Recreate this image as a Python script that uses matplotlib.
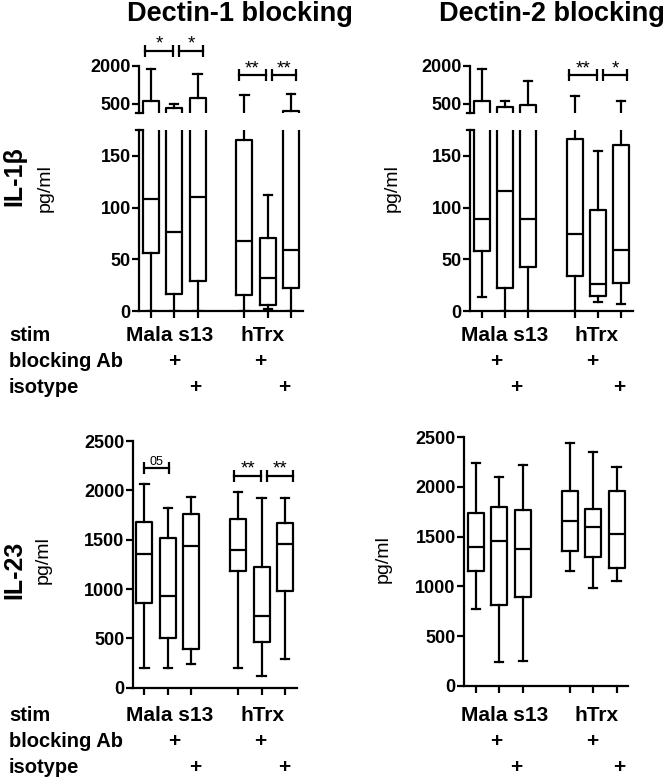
import matplotlib
matplotlib.use("Agg")
import matplotlib.pyplot as plt

plt.rcParams['font.family'] = ['Liberation Sans', 'DejaVu Sans']
plt.rcParams['font.weight'] = 'bold'

W, H = 669, 779

positions = [1, 2, 3, 5, 6, 7]

# IL-1b, Dectin-1 blocking
il1_d1_lo = [0, 0, 0, 0, 2, 0]
il1_d1_q1 = [56, 16, 29, 15.5, 6, 22]
il1_d1_med = [108, 76, 110, 68, 32, 59]
il1_d1_q3 = [610, 330, 730, 165, 71, 220]
il1_d1_hi = [1870, 490, 1670, 830, 112, 890]

# IL-1b, Dectin-2 blocking
il1_d2_lo = [14, 0, 0, 0, 9, 7]
il1_d2_q1 = [58, 22, 43, 34, 14.5, 27]
il1_d2_med = [89, 116, 89, 74, 26, 59]
il1_d2_q3 = [620, 350, 450, 166, 97.7, 160.7]
il1_d2_hi = [1895, 620, 1385, 823, 155, 620]

# IL-23, Dectin-1 blocking
il23_d1_lo = [203, 203, 240, 197, 122, 288]
il23_d1_q1 = [861, 507, 389, 1182, 466, 980]
il23_d1_med = [1355, 932, 1436, 1395, 730, 1453]
il23_d1_q3 = [1676, 1514, 1760, 1706, 1226, 1666]
il23_d1_hi = [2064, 1818, 1929, 1980, 1919, 1919]

# IL-23, Dectin-2 blocking
il23_d2_lo = [769, 235, 248, 1154, 980, 1053]
il23_d2_q1 = [1154, 812, 889, 1358, 1292, 1187]
il23_d2_med = [1392, 1459, 1375, 1657, 1594, 1526]
il23_d2_q3 = [1734, 1795, 1768, 1962, 1775, 1959]
il23_d2_hi = [2243, 2103, 2220, 2445, 2354, 2197]

# significance brackets: (x0, x1, y, label)
sig_il1_d1 = [(0.76, 1.95, 2600, '*'), (2.21, 3.23, 2600, '*'),
              (4.77, 5.91, 1625, '**'), (6.16, 7.2, 1625, '**')]
sig_il1_d2 = [(4.76, 5.94, 1625, '**'), (6.2, 7.25, 1625, '*')]
sig_il23_d1 = [(0.98, 2.06, 2229, '05'), (4.84, 5.98, 2148, '**'),
               (6.22, 7.33, 2148, '**')]
sig_il23_d2 = []

LOW_TOP = 175  # top of the lower segment of the broken axis

fig = plt.figure(figsize=(W / 100, H / 100), dpi=100)


def ax_at(x0, y0, x1, y1):
    return fig.add_axes([x0 / W, 1 - y1 / H, (x1 - x0) / W, (y1 - y0) / H])


def make_stats(lo, q1, med, q3, hi, floor=None):
    keys = ['whislo', 'q1', 'med', 'q3', 'whishi']
    out = []
    for vals in zip(lo, q1, med, q3, hi):
        d = dict(zip(keys, vals))
        if floor is not None:
            # parts that belong to the lower segment are kept out of the upper one
            d = {k: (v if v >= floor else -1e4) for k, v in d.items()}
        d['fliers'] = []
        out.append(d)
    return out


def style(ax, bottom=True):
    ax.spines['top'].set_visible(False)
    ax.spines['right'].set_visible(False)
    ax.spines['left'].set_linewidth(1.6)
    ax.spines['bottom'].set_linewidth(1.6)
    ax.set_xlim(0.5, 7.5)
    ax.tick_params(direction='out', length=5, width=1.6, labelsize=13, pad=1)
    if bottom:
        ax.set_xticks(positions)
        ax.set_xticklabels([])
    else:
        ax.spines['bottom'].set_visible(False)
        ax.set_xticks([])
    ax.patch.set_alpha(0)


def draw_boxes(ax, stats):
    lp = dict(color='k', lw=1.6)
    ax.bxp(stats, positions=positions, widths=0.68, capwidths=0.35,
           showfliers=False, boxprops=lp, whiskerprops=lp, capprops=lp,
           medianprops=lp)


def brackets(ax, sigs, fs=13.5):
    for x0, x1, y, lab in sigs:
        ax.plot([x0, x1], [y, y], color='k', lw=1.6, clip_on=False)
        ax.plot([x0, x1], [y, y], ls='none', marker='|', ms=9, mew=1.6,
                color='k', clip_on=False)
        size = 9 if lab == '05' else fs
        ax.annotate(lab, xy=((x0 + x1) / 2, y), xytext=(0, 5 if lab != '05' else 4),
                    textcoords='offset points', ha='center', va='center',
                    fontsize=size, fontweight='normal', annotation_clip=False)


def break_stub(ax, ypos):
    ax.plot([-0.02, 0.025], [ypos, ypos], color='k', lw=1.6,
            transform=ax.transAxes, clip_on=False)


def broken_panel(x0, x1, data, sigs):
    up = ax_at(x0, 66, x1, 112.5)
    low = ax_at(x0, 130, x1, 311)
    draw_boxes(up, make_stats(*data, floor=LOW_TOP))
    draw_boxes(low, make_stats(*data))
    style(up, bottom=False)
    style(low)
    up.set_ylim(150, 2000)
    up.set_yticks([500, 2000])
    low.set_ylim(0, LOW_TOP)
    low.set_yticks([0, 50, 100, 150])
    break_stub(up, 0)
    break_stub(low, 1)
    brackets(up, sigs)
    return up, low


def full_panel(x0, y0, x1, y1, data, sigs):
    ax = ax_at(x0, y0, x1, y1)
    draw_boxes(ax, make_stats(*data))
    style(ax)
    ax.set_ylim(0, 2500)
    ax.set_yticks([0, 500, 1000, 1500, 2000, 2500])
    brackets(ax, sigs)
    return ax


broken_panel(139, 303, (il1_d1_lo, il1_d1_q1, il1_d1_med, il1_d1_q3, il1_d1_hi), sig_il1_d1)
broken_panel(470, 633, (il1_d2_lo, il1_d2_q1, il1_d2_med, il1_d2_q3, il1_d2_hi), sig_il1_d2)
full_panel(132.7, 441, 296.7, 687.7,
           (il23_d1_lo, il23_d1_q1, il23_d1_med, il23_d1_q3, il23_d1_hi), sig_il23_d1)
full_panel(464, 437.3, 628.3, 685.7,
           (il23_d2_lo, il23_d2_q1, il23_d2_med, il23_d2_q3, il23_d2_hi), sig_il23_d2)


def ftext(x, y, s, **kw):
    fig.text(x / W, 1 - y / H, s, **kw)


# titles
ftext(240, 14, 'Dectin-1 blocking', fontsize=19.5, ha='center', va='center')
ftext(552, 14, 'Dectin-2 blocking', fontsize=19.5, ha='center', va='center')

# y labels
ftext(14, 176, 'IL-1β', fontsize=18, rotation=90, ha='center', va='center')
ftext(45, 188, 'pg/ml', fontsize=14, fontweight='normal', rotation=90, ha='center', va='center')
ftext(392, 188, 'pg/ml', fontsize=14, fontweight='normal', rotation=90, ha='center', va='center')
ftext(14, 570, 'IL-23', fontsize=18, rotation=90, ha='center', va='center')
ftext(43, 560, 'pg/ml', fontsize=14, fontweight='normal', rotation=90, ha='center', va='center')
ftext(383, 559, 'pg/ml', fontsize=14, fontweight='normal', rotation=90, ha='center', va='center')

# condition rows
row_names = ['stim', 'blocking Ab', 'isotype']
stim_names = ['Mala s13', 'hTrx']
row_base = {'top': [340.7, 366.7, 393.3], 'bottom': [720.7, 746.7, 772.7]}
stim_x = {'left': [170, 262.5], 'right': [504.5, 596.3]}
block_x = {'left': [174, 260], 'right': [496.7, 592.3]}
iso_x = {'left': [195.7, 284.3], 'right': [516.7, 619.3]}

for row in ('top', 'bottom'):
    yb = row_base[row]
    for name, y in zip(row_names, yb):
        ftext(9, y, name, fontsize=14.5, ha='left', va='baseline')
    for side in ('left', 'right'):
        for s, x in zip(stim_names, stim_x[side]):
            ftext(x, yb[0], s, fontsize=15, ha='center', va='baseline')
        for x in block_x[side]:
            ftext(x, yb[1], '+', fontsize=15, ha='center', va='baseline')
        for x in iso_x[side]:
            ftext(x, yb[2], '+', fontsize=15, ha='center', va='baseline')

fig.savefig('out.png', dpi=100)
